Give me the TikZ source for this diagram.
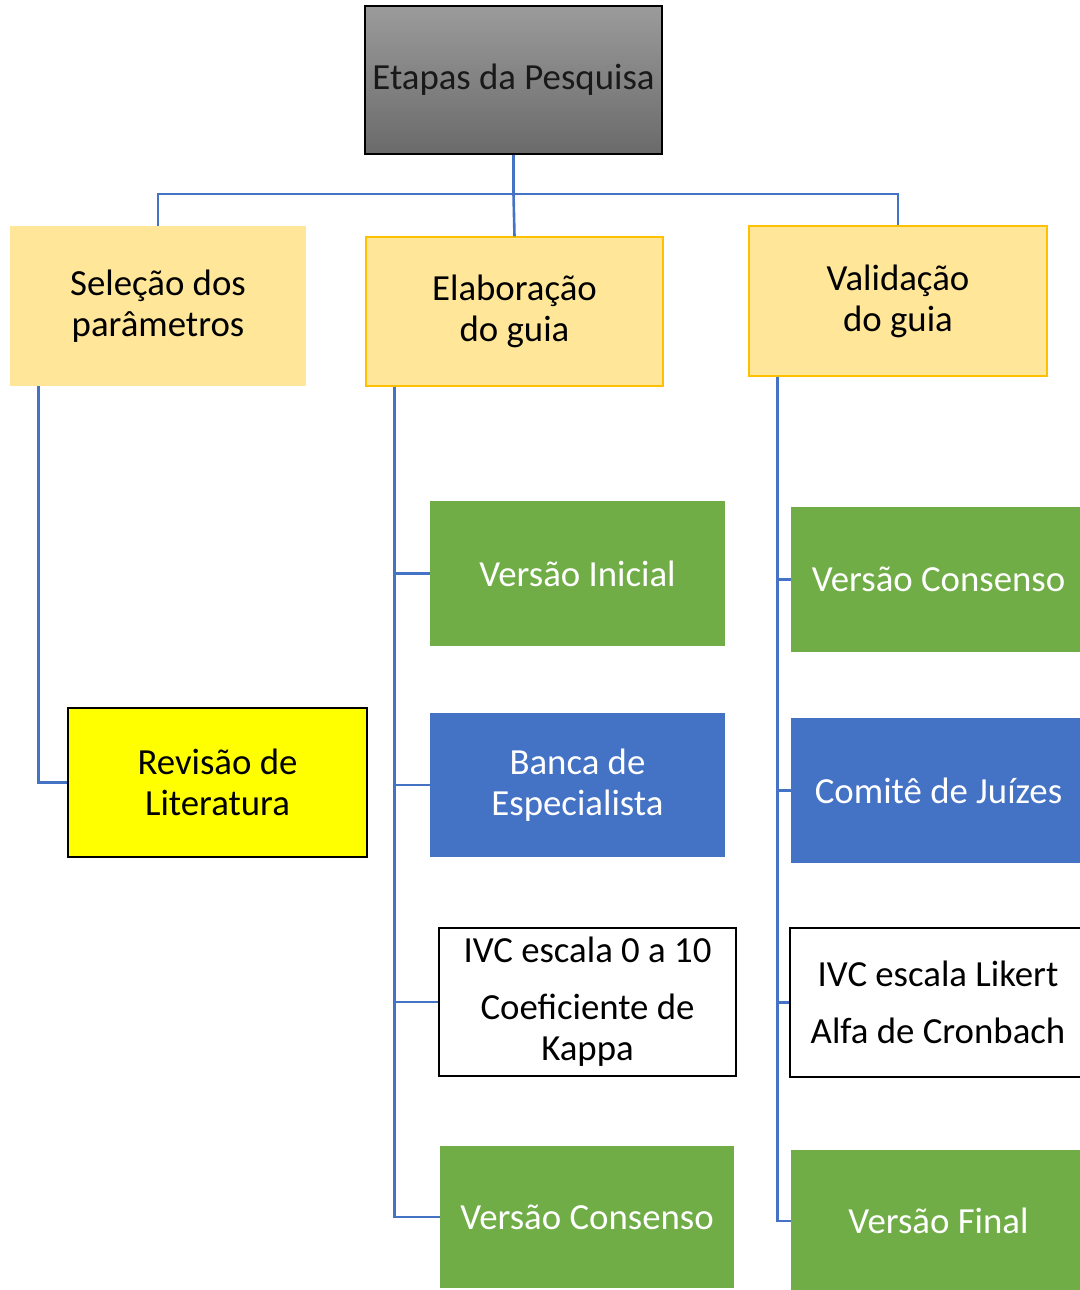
\documentclass[tikz,border=0pt]{standalone}
\usepackage{fontspec}
\setmainfont{Carlito}
\usetikzlibrary{calc}
\definecolor{gold}{HTML}{FFE699}
\definecolor{goldline}{HTML}{FFC000}
\definecolor{leaf}{HTML}{70AD47}
\definecolor{sky}{HTML}{4472C4}
\definecolor{wire}{HTML}{4472C4}
\definecolor{topA}{HTML}{9B9B9B}
\definecolor{topB}{HTML}{6A6A6A}
\definecolor{lemon}{HTML}{FFFF00}
\begin{document}
\begin{tikzpicture}[x=0.5pt,y=-0.5pt,
  every node/.style={font=\fontsize{18.4}{20.5}\selectfont, align=center, inner sep=0pt},
  box/.style={rectangle, minimum width=#1},
  headbox/.style={box=148.5pt, minimum height=74pt, draw=black, line width=0.6pt,
    top color=topA, bottom color=topB, text=black!90},
  stagebox/.style={box=148.5pt, fill=gold, draw=goldline, line width=0.6pt},
  greenbox/.style={box=147.5pt, fill=leaf, text=white},
  bluebox/.style={box=147.5pt, fill=sky, text=white},
  whitebox/.style={box=148.5pt, fill=white, draw=black, line width=1pt},
  conn/.style={draw=wire, line width=1.3pt}]
\useasboundingbox (0,0) rectangle (1080,1290);
\clip (0,0) rectangle (1080,1290);

% root
\node[headbox] (root) at (513.5,80) {Etapas da Pesquisa};

% three stages
\node[stagebox, draw=gold, minimum width=147pt, minimum height=79pt] (sel) at (158,306) {Seleção dos\\parâmetros};
\node[stagebox, minimum height=74.5pt] (elab) at (514.5,311.5) {Elaboração\\do guia};
\node[stagebox, minimum width=149pt, minimum height=75pt] (val) at (898,301) {Validação\\do guia};

% first stage
\node[box=149.5pt, minimum height=74.5pt, fill=lemon, draw=black, line width=1pt] (rev) at (217.5,782.5) {Revisão de\\Literatura};

% second stage
\node[greenbox, minimum height=72.5pt] (vi) at (577.5,573.5) {Versão Inicial};
\node[bluebox, minimum height=72pt] (banca) at (577.5,785) {Banca de\\Especialista};
\node[whitebox, minimum height=74pt] (ivc) at (587.5,1002) {IVC escala 0 a 10\\[8pt]Coeficiente de\\Kappa};
\node[greenbox, minimum width=147pt, minimum height=71pt] (vcons) at (587,1217) {Versão Consenso};

% third stage
\node[greenbox, minimum height=72.5pt] (vcons2) at (938.5,579.5) {Versão Consenso};
\node[bluebox, minimum height=72.5pt] (comite) at (938.5,790.5) {Comitê de Juízes};
\node[whitebox, minimum width=148pt, minimum height=74.5pt] (likert) at (938,1002.5) {IVC escala Likert\\[8pt]Alfa de Cronbach};
\node[greenbox, minimum height=71pt] (vfin) at (938.5,1221) {Versão Final};

% connectors from the root
\coordinate (bus) at (513.5,194);
\draw[conn] (root.south) -- (bus);
\draw[conn] (bus) -| (sel.north);
\draw[conn] (bus) -| (val.north);
\draw[conn] (bus) -- (elab.north);

% stems of each stage
\coordinate (selstem) at ([xshift=14pt]sel.south west);
\coordinate (elabstem) at ([xshift=14.5pt]elab.south west);
\coordinate (valstem) at ([xshift=14.5pt]val.south west);

\draw[conn] (selstem) |- (rev.west);

\foreach \t in {vi,banca,ivc,vcons}
  \draw[conn] (elabstem) |- (\t.west);

\foreach \t in {vcons2,comite,likert,vfin}
  \draw[conn] (valstem) |- (\t.west);
\end{tikzpicture}
\end{document}
